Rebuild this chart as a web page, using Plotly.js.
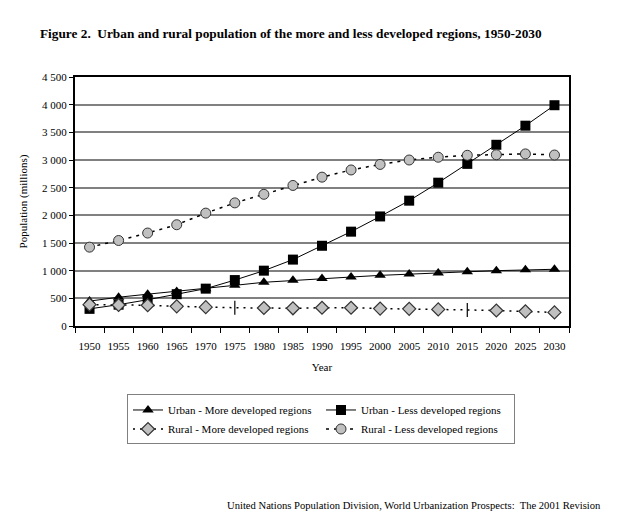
<!DOCTYPE html>
<html><head><meta charset="utf-8">
<script src="https://cdn.plot.ly/plotly-3.0.1.min.js"></script>
<style>html,body{margin:0;padding:0;background:#fff}#chart{width:627px;height:531px}</style>
</head><body><div id="chart"></div>
<script>
const years = ['1950','1955','1960','1965','1970','1975','1980','1985','1990','1995','2000','2005','2010','2015','2020','2025','2030'];
const urbanMore = [450, 520, 575, 625, 675, 735, 790, 825, 860, 885, 915, 940, 960, 980, 1000, 1015, 1025];
const urbanLess = [310, 385, 475, 575, 675, 830, 1000, 1200, 1450, 1705, 1980, 2265, 2590, 2930, 3275, 3620, 3990];
const ruralMore = [385, 380, 375, 355, 340, 330, 325, 320, 330, 330, 315, 310, 300, 290, 280, 265, 245];
const ruralLess = [1425, 1545, 1680, 1830, 2040, 2225, 2380, 2540, 2690, 2820, 2920, 3000, 3050, 3085, 3095, 3110, 3090];
const names = ['Urban - More developed regions','Urban - Less developed regions','Rural - More developed regions','Rural - Less developed regions'];

const serif = '"Liberation Serif", "Times New Roman", serif';
// in the reference the diamond marker is replaced by a short vertical stroke at 1975 and 2015
const isStroke = years.map(y => y === '1975' || y === '2015');
const diamondSymbols = isStroke.map(s => s ? 'line-ns-open' : 'diamond');
const diamondColors = isStroke.map(s => s ? '#000' : '#c0c0c0');
const traces = [
  {x: years, y: urbanMore, name: names[0], mode: 'lines+markers',
   line: {color: '#000', width: 1}, marker: {symbol: 'triangle-up', size: 10, color: '#000'}},
  {x: years, y: urbanLess, name: names[1], mode: 'lines+markers',
   line: {color: '#000', width: 1}, marker: {symbol: 'square', size: 10, color: '#000'}},
  {x: years, y: ruralMore, name: names[2], mode: 'lines+markers',
   line: {color: '#000', width: 1.5, dash: '2px,5px'},
   marker: {symbol: diamondSymbols, size: 10, color: diamondColors, line: {color: '#333', width: 1.2}}},
  {x: years, y: ruralLess, name: names[3], mode: 'lines+markers',
   line: {color: '#000', width: 1.5, dash: '3px,5px'},
   marker: {symbol: 'circle', size: 10, color: '#c0c0c0', line: {color: '#333', width: 1}}}
];

const layout = {
  width: 627, height: 531,
  margin: {l: 75, r: 58, t: 77, b: 205},
  paper_bgcolor: '#fff', plot_bgcolor: '#fff',
  separators: '. ',
  font: {family: serif, size: 11, color: '#000'},
  title: {text: '<b>Figure 2.  Urban and rural population of the more and less developed regions, 1950-2030</b>',
          x: 40/627, xanchor: 'left', xref: 'container', y: 1 - 33/531, yref: 'container', yanchor: 'middle',
          font: {family: serif, size: 13.3, color: '#000'}},
  xaxis: {type: 'category', range: [-0.5, 16.5], showgrid: false, showline: true, linecolor: '#000', linewidth: 2,
          mirror: true, ticks: 'outside', ticklen: 5, tickcolor: '#000', tickson: 'boundaries', tickangle: 0,
          ticklabelstandoff: 9, tickfont: {family: serif, size: 11},
          title: {text: 'Year', standoff: 12, font: {family: serif, size: 11}}},
  yaxis: {range: [0, 4500], dtick: 500, tick0: 0, separatethousands: true,
          showgrid: true, gridcolor: '#808080', gridwidth: 2, zeroline: false,
          showline: true, linecolor: '#000', linewidth: 2, mirror: true,
          ticks: 'outside', ticklen: 4, tickcolor: '#000', tickfont: {family: serif, size: 11},
          title: {text: 'Population (millions)', standoff: 12, font: {family: serif, size: 11}}},
  showlegend: true,
  legend: {orientation: 'h', x: (127-75)/494, xanchor: 'left', y: -0.275, yanchor: 'top',
           entrywidth: 148, bordercolor: '#808080', borderwidth: 1, bgcolor: '#fff',
           font: {family: serif, size: 11}, tracegroupgap: 0},
  annotations: [{text: 'United Nations Population Division, World Urbanization Prospects:  The 2001 Revision',
    xref: 'paper', yref: 'paper', x: (603-75)/494, xanchor: 'right', y: -(505-326)/249, yanchor: 'middle',
    showarrow: false, font: {family: serif, size: 10.6, color: '#000'}}]
};
Plotly.newPlot('chart', traces, layout, {displayModeBar: false, staticPlot: true});
</script></body></html>
